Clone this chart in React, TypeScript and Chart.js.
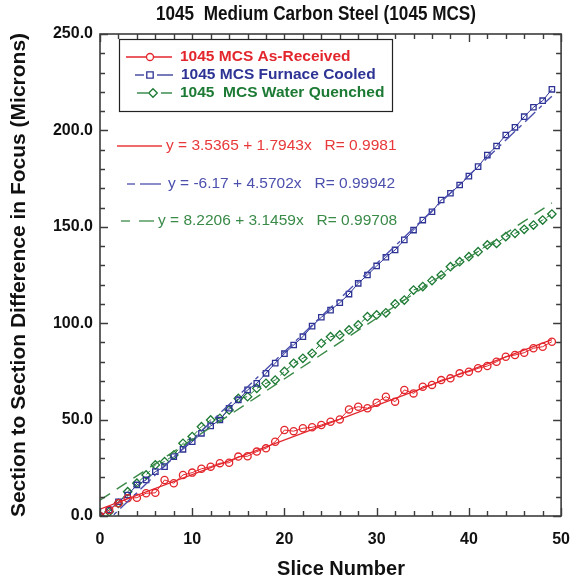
import React, { useEffect, useRef } from 'react';
import { Chart, registerables } from 'chart.js';

Chart.register(...registerables);

const TITLE = '1045  Medium Carbon Steel (1045 MCS)';
const X_TITLE = 'Slice Number';
const Y_TITLE = 'Section to Section Difference in Focus (Microns)';

const SLICES = [0, 1, 2, 3, 4, 5, 6, 7, 8, 9, 10, 11, 12, 13, 14, 15, 16, 17, 18, 19, 20, 21, 22, 23, 24, 25, 26, 27, 28, 29, 30, 31, 32, 33, 34, 35, 36, 37, 38, 39, 40, 41, 42, 43, 44, 45, 46, 47, 48, 49];

const AS_RECEIVED = [0, 3.1, 6.6, 9.2, 9.5, 11.8, 12.0, 18.7, 17.0, 21.3, 22.5, 24.5, 25.6, 27.4, 27.6, 30.8, 31.0, 33.4, 35.1, 38.5, 44.6, 44.0, 45.5, 46.0, 47.2, 48.9, 50.1, 55.3, 56.7, 55.9, 58.8, 61.9, 59.3, 65.4, 63.6, 67.1, 68.0, 70.5, 71.4, 74.0, 74.8, 76.6, 77.8, 80.0, 82.6, 83.5, 84.7, 87.0, 87.8, 90.4];
const FURNACE_COOLED = [0, 3.1, 7.4, 10.9, 16.1, 18.7, 23.0, 25.6, 30.8, 34.6, 38.5, 42.9, 46.7, 49.8, 55.9, 60.2, 65.4, 68.8, 74.0, 79.3, 84.2, 88.7, 93.0, 98.5, 103.1, 106.8, 110.6, 115.1, 120.7, 125.0, 129.7, 134.2, 138.0, 143.2, 148.3, 153.5, 157.8, 163.9, 167.4, 171.7, 176.3, 181.2, 187.2, 191.9, 197.6, 201.6, 207.1, 212.0, 215.4, 221.3];
const WATER_QUENCHED = [0, 2.2, 6.6, 12.6, 17.0, 21.3, 26.5, 28.2, 31.6, 37.7, 41.2, 46.3, 49.8, 50.7, 55.0, 61.0, 61.9, 66.2, 68.8, 70.5, 75.0, 79.2, 81.8, 84.4, 89.6, 93.0, 93.9, 96.5, 99.1, 103.4, 104.3, 105.4, 110.0, 112.0, 117.2, 119.0, 122.1, 125.0, 129.3, 131.9, 134.5, 137.1, 140.6, 141.4, 144.9, 146.6, 148.7, 150.9, 153.5, 156.6];

// regression: [intercept, slope]
const FIT_AS_RECEIVED = [3.5365, 1.7943];
const FIT_FURNACE_COOLED = [-6.17, 4.5702];
const FIT_WATER_QUENCHED = [8.2206, 3.1459];
const FIT_RANGE = [0, 49];

const SERIES_LABELS = ['1045 MCS As-Received', '1045 MCS Furnace Cooled', '1045  MCS Water Quenched'];
const EQUATION_LABELS = [
  'y = 3.5365 + 1.7943x   R= 0.9981',
  'y = -6.17 + 4.5702x   R= 0.99942',
  'y = 8.2206 + 3.1459x   R= 0.99708',
];

const X_TICK_VALUES = [0, 10, 20, 30, 40, 50];
const X_TICK_LABELS = ['0', '10', '20', '30', '40', '50'];
const Y_TICK_VALUES = [0, 50, 100, 150, 200, 250];
const Y_TICK_LABELS = ['0.0', '50.0', '100.0', '150.0', '200.0', '250.0'];
const X_MINOR_STEP = 2;
const Y_MINOR_STEP = 10;

const RED = '#e3262c';
const BLUE = '#2d3394';
const GREEN = '#1c7a34';
const RED_EQ = '#e8383a';
const BLUE_EQ = '#4c50ad';
const GREEN_EQ = '#3a8a48';
const FONT = '"Liberation Sans", Arial, sans-serif';

function fitPoints(fit: number[]) {
  return FIT_RANGE.map((x) => ({ x, y: fit[0] + fit[1] * x }));
}

function drawMarker(ctx: CanvasRenderingContext2D, kind: string, x: number, y: number, color: string) {
  ctx.save();
  ctx.strokeStyle = color;
  ctx.lineWidth = 1.3;
  ctx.fillStyle = '#ffffff';
  ctx.setLineDash([]);
  ctx.beginPath();
  if (kind === 'circle') ctx.arc(x, y, 3.5, 0, Math.PI * 2);
  else if (kind === 'rect') ctx.rect(x - 3.2, y - 3.2, 6.4, 6.4);
  else {
    ctx.moveTo(x, y - 4.3);
    ctx.lineTo(x + 4.3, y);
    ctx.lineTo(x, y + 4.3);
    ctx.lineTo(x - 4.3, y);
    ctx.closePath();
  }
  ctx.fill();
  ctx.stroke();
  ctx.restore();
}

function seg(ctx: CanvasRenderingContext2D, x1: number, x2: number, y: number, color: string, w: number) {
  ctx.save();
  ctx.strokeStyle = color;
  ctx.lineWidth = w;
  ctx.setLineDash([]);
  ctx.beginPath();
  ctx.moveTo(x1, y);
  ctx.lineTo(x2, y);
  ctx.stroke();
  ctx.restore();
}

function fitText(ctx: CanvasRenderingContext2D, text: string, cx: number, cy: number, width: number) {
  const w = ctx.measureText(text).width;
  const k = Math.min(1, width / w);
  ctx.save();
  ctx.translate(cx, cy);
  ctx.scale(k, 1);
  ctx.fillText(text, 0, 0);
  ctx.restore();
}

const overlay = {
  id: 'overlay',
  afterDraw(chart: any) {
    const { ctx, chartArea: a } = chart;
    const xs = chart.scales.x;
    const ys = chart.scales.y;
    ctx.save();

    // frame
    ctx.strokeStyle = '#3c3c3c';
    ctx.lineWidth = 1.6;
    ctx.strokeRect(a.left, a.top, a.right - a.left, a.bottom - a.top);

    // inward ticks
    ctx.lineWidth = 1.4;
    ctx.beginPath();
    for (let v = xs.min; v <= xs.max + 1e-9; v += X_MINOR_STEP) {
      const px = Math.round(xs.getPixelForValue(v)) + 0.5;
      const len = X_TICK_VALUES.includes(v) ? 8 : 5;
      ctx.moveTo(px, a.bottom);
      ctx.lineTo(px, a.bottom - len);
      ctx.moveTo(px, a.top);
      ctx.lineTo(px, a.top + len);
    }
    for (let v = ys.min; v <= ys.max + 1e-9; v += Y_MINOR_STEP) {
      const py = Math.round(ys.getPixelForValue(v)) + 0.5;
      const len = Y_TICK_VALUES.includes(v) ? 8 : 5;
      ctx.moveTo(a.left, py);
      ctx.lineTo(a.left + len, py);
      ctx.moveTo(a.right, py);
      ctx.lineTo(a.right - len, py);
    }
    ctx.stroke();

    // titles
    ctx.fillStyle = '#111';
    ctx.textAlign = 'center';
    ctx.textBaseline = 'middle';
    ctx.font = `bold 20px ${FONT}`;
    fitText(ctx, TITLE, 316, 14, 320);
    ctx.font = `bold 20px ${FONT}`;
    ctx.fillText(X_TITLE, 341, 569);
    ctx.save();
    ctx.translate(19, 275);
    ctx.rotate(-Math.PI / 2);
    ctx.font = `bold 21px ${FONT}`;
    ctx.fillText(Y_TITLE, 0, 0);
    ctx.restore();

    // legend box
    ctx.fillStyle = '#ffffff';
    ctx.fillRect(119, 39, 273, 73);
    ctx.strokeStyle = '#222';
    ctx.lineWidth = 1.2;
    ctx.strokeRect(119.5, 39.5, 273, 72);

    ctx.textAlign = 'left';
    ctx.font = `bold 15.5px ${FONT}`;
    // row 1
    seg(ctx, 126, 172, 57, RED, 1.3);
    drawMarker(ctx, 'circle', 150, 57, RED);
    ctx.fillStyle = RED;
    ctx.fillText(SERIES_LABELS[0], 180, 57);
    // row 2
    seg(ctx, 135, 144, 75, BLUE, 1.3);
    seg(ctx, 157, 173, 75, BLUE, 1.3);
    drawMarker(ctx, 'rect', 150, 75, BLUE);
    ctx.fillStyle = BLUE;
    ctx.fillText(SERIES_LABELS[1], 181, 75);
    // row 3
    seg(ctx, 137, 148, 93, GREEN, 1.3);
    seg(ctx, 161, 172, 93, GREEN, 1.3);
    drawMarker(ctx, 'diamond', 153, 93, GREEN);
    ctx.fillStyle = GREEN;
    ctx.fillText(SERIES_LABELS[2], 180, 93);

    // equations
    ctx.font = `15.5px ${FONT}`;
    seg(ctx, 117, 162, 146, RED_EQ, 1.3);
    ctx.fillStyle = RED_EQ;
    ctx.fillText(EQUATION_LABELS[0], 166, 146);

    seg(ctx, 127, 135, 184, BLUE_EQ, 1.3);
    seg(ctx, 140, 161, 184, BLUE_EQ, 1.3);
    ctx.fillStyle = BLUE_EQ;
    ctx.fillText(EQUATION_LABELS[1], 168, 184);

    seg(ctx, 121, 130, 221, GREEN_EQ, 1.3);
    seg(ctx, 139, 154, 221, GREEN_EQ, 1.3);
    ctx.fillStyle = GREEN_EQ;
    ctx.fillText(EQUATION_LABELS[2], 158, 221);

    ctx.restore();
  },
};

export default function App() {
  const ref = useRef<HTMLCanvasElement | null>(null);

  useEffect(() => {
    if (!ref.current) return;
    const pts = (ys: number[]) => SLICES.map((x, i) => ({ x, y: ys[i] }));
    const chart = new Chart(ref.current, {
      type: 'line',
      data: {
        datasets: [
          {
            label: 'fit-red',
            data: fitPoints(FIT_AS_RECEIVED),
            borderColor: RED,
            borderWidth: 1.4,
            pointRadius: 0,
          },
          {
            label: 'fit-blue',
            data: fitPoints(FIT_FURNACE_COOLED),
            borderColor: BLUE_EQ,
            borderWidth: 1.4,
            borderDash: [14, 5, 4, 5],
            pointRadius: 0,
          },
          {
            label: 'fit-green',
            data: fitPoints(FIT_WATER_QUENCHED),
            borderColor: GREEN_EQ,
            borderWidth: 1.4,
            borderDash: [12, 8],
            pointRadius: 0,
          },
          {
            label: SERIES_LABELS[0],
            data: pts(AS_RECEIVED),
            borderColor: RED,
            borderWidth: 1,
            pointStyle: 'circle',
            pointRadius: 3.6,
            pointBorderWidth: 1.3,
            pointBorderColor: RED,
            pointBackgroundColor: 'rgba(255,255,255,0)',
          },
          {
            label: SERIES_LABELS[1],
            data: pts(FURNACE_COOLED),
            borderColor: BLUE,
            borderWidth: 1,
            pointStyle: 'rect',
            pointRadius: 3.8,
            pointBorderWidth: 1.3,
            pointBorderColor: BLUE,
            pointBackgroundColor: 'rgba(255,255,255,0)',
          },
          {
            label: SERIES_LABELS[2],
            data: pts(WATER_QUENCHED),
            borderColor: GREEN,
            borderWidth: 1,
            borderDash: [5, 4],
            pointStyle: 'rectRot',
            pointRadius: 4.2,
            pointBorderWidth: 1.3,
            pointBorderColor: GREEN,
            pointBackgroundColor: 'rgba(255,255,255,0)',
          },
        ],
      },
      options: {
        animation: false,
        responsive: true,
        maintainAspectRatio: false,
        layout: { padding: { top: 34, right: 10, left: 0, bottom: 0 } },
        plugins: { legend: { display: false }, tooltip: { enabled: false }, title: { display: false } },
        scales: {
          x: {
            type: 'linear',
            min: 0,
            max: 50,
            grid: { display: false, drawTicks: false },
            border: { display: false },
            afterFit: (s: any) => { s.height = 68; },
            afterBuildTicks: (s: any) => { s.ticks = X_TICK_VALUES.map((value) => ({ value })); },
            ticks: {
              padding: 14,
              color: '#111',
              font: { family: FONT, size: 16, weight: 'bold' },
              maxRotation: 0,
              callback: (v: any) => X_TICK_LABELS[X_TICK_VALUES.indexOf(Number(v))],
            },
          },
          y: {
            type: 'linear',
            min: 0,
            max: 250,
            grid: { display: false, drawTicks: false },
            border: { display: false },
            afterFit: (s: any) => { s.width = 100; },
            afterBuildTicks: (s: any) => { s.ticks = Y_TICK_VALUES.map((value) => ({ value })); },
            ticks: {
              padding: 7,
              color: '#111',
              font: { family: FONT, size: 16, weight: 'bold' },
              callback: (v: any) => Y_TICK_LABELS[Y_TICK_VALUES.indexOf(Number(v))],
            },
          },
        },
      },
      plugins: [overlay],
    } as any);
    return () => chart.destroy();
  }, []);

  return (
    <div style={{ position: 'fixed', left: 0, top: 0, width: 584, height: 584, background: '#fff' }}>
      <canvas ref={ref} />
    </div>
  );
}
